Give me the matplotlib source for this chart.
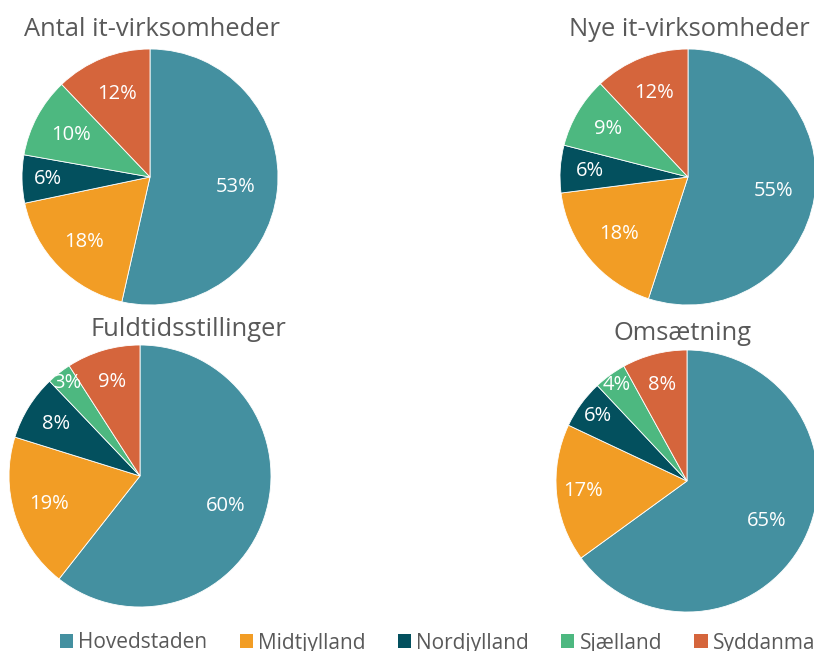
import matplotlib.pyplot as plt
from matplotlib.patches import Patch
import numpy as np

regioner = ['Hovedstaden', 'Midtjylland', 'Nordjylland', 'Sjælland', 'Syddanmark']
farver = ['#4490A0', '#F29D25', '#03505E', '#4DB880', '#D5653C']

titler = ['Antal it-virksomheder', 'Nye it-virksomheder', 'Fuldtidsstillinger', 'Omsætning']
antal = [53, 18, 6, 10, 12]
nye = [55, 18, 6, 9, 12]
fuldtid = [60, 19, 8, 3, 9]
omsaetning = [65, 17, 6, 4, 8]

plt.rcParams['font.family'] = ['Open Sans', 'DejaVu Sans']

fig = plt.figure(figsize=(8.14, 6.51), dpi=100)
ax = fig.add_axes([0, 0, 1, 1])

# center x, center y (pixels from bottom), radius, title x, title y
layout = [
    (150, 651 - 177, 128, 152, 651 - 30),
    (688, 651 - 177, 128, 689, 651 - 30),
    (140, 651 - 476, 131, 188, 651 - 330),
    (687, 651 - 481, 131, 683, 651 - 333),
]
afstand = [
    [0.67, 0.72, 0.8, 0.7, 0.7],
    [0.68, 0.7, 0.77, 0.73, 0.71],
    [0.69, 0.73, 0.75, 0.9, 0.75],
    [0.68, 0.8, 0.84, 0.91, 0.76],
]

for vals, titel, (cx, cy, r, tx, ty), dist in zip([antal, nye, fuldtid, omsaetning], titler, layout, afstand):
    wedges, _ = ax.pie(vals, colors=farver, startangle=90, counterclock=False,
                       center=(cx, cy), radius=r, frame=True,
                       wedgeprops=dict(edgecolor='white', linewidth=0.6))
    for w, v, d in zip(wedges, vals, dist):
        ang = np.deg2rad((w.theta1 + w.theta2) / 2)
        ax.text(cx + d * r * np.cos(ang), cy + d * r * np.sin(ang), f'{v}%',
                ha='center', va='center', color='white', fontsize=14.5)
    ax.text(tx, ty, titel, ha='center', va='center', color='#595959', fontsize=18.4)

ax.set_xlim(0, 814)
ax.set_ylim(0, 651)
ax.set_aspect('auto')
ax.axis('off')

handles = [Patch(facecolor=c, label=l) for c, l in zip(farver, regioner)]
leg = fig.legend(handles=handles, loc='center left', bbox_to_anchor=(60 / 814, 8 / 651),
                 ncol=5, frameon=False, fontsize=15, handlelength=0.63, handleheight=0.63,
                 handletextpad=0.25, columnspacing=1.55, borderaxespad=0, borderpad=0)
for t in leg.get_texts():
    t.set_color('#595959')

fig.savefig('out.png', dpi=100)
